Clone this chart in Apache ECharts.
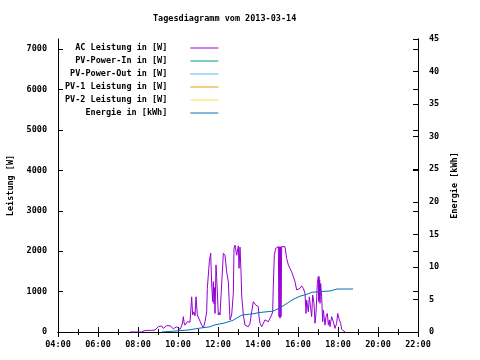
<!DOCTYPE html>
<html>
<head>
<meta charset="utf-8">
<script src="https://cdn.jsdelivr.net/npm/echarts@6/dist/echarts.min.js"></script>
<style>html,body{margin:0;padding:0;background:#fff;}#c{width:480px;height:360px;}</style>
</head>
<body>
<div id="c"></div>
<script>
const titleText = 'Tagesdiagramm vom 2013-03-14';
const seriesNames = ['AC Leistung in [W]', 'PV-Power-In in [W]', 'PV-Power-Out in [W]', 'PV-1 Leistung in [W]', 'PV-2 Leistung in [W]', 'Energie in [kWh]'];
const seriesColors = ['#9400d3', '#009e73', '#56b4e9', '#e69f00', '#f0e442', '#0072b2'];
const xTicks = ['04:00', '06:00', '08:00', '10:00', '12:00', '14:00', '16:00', '18:00', '20:00', '22:00'];
const leftTicks = [0, 1000, 2000, 3000, 4000, 5000, 6000, 7000];
const rightTicks = [0, 5, 10, 15, 20, 25, 30, 35, 40, 45];

const acTime = ['07:36','08:00','08:04','08:11','08:18','08:24','08:31','08:36','08:41','08:45','08:51','08:56',
'09:01','09:06','09:11','09:16','09:21','09:26','09:31','09:36','09:41','09:46','09:51','09:56',
'10:01','10:06','10:11','10:14','10:16','10:18','10:21','10:28','10:36','10:41','10:44','10:48','10:51','10:54','10:58',
'11:01','11:06','11:11','11:16','11:21','11:26','11:28','11:34','11:38','11:41','11:44','11:46','11:48','11:50','11:51','11:54','11:56',
'12:01','12:04','12:06','12:11','12:16','12:21','12:26','12:31','12:36','12:41','12:46','12:48','12:51','12:56',
'13:01','13:03','13:06','13:09','13:11','13:16','13:21','13:26','13:31','13:36','13:41','13:46','13:49','13:53','13:56',
'14:01','14:03','14:06','14:11','14:16','14:21','14:26','14:31','14:36','14:41','14:44','14:46','14:49','14:53','14:56',
'15:01','15:03','15:04','15:06','15:08','15:09','15:11','15:16','15:21','15:26','15:31','15:36','15:41','15:46','15:51','15:56',
'16:01','16:06','16:11','16:16','16:21','16:24','16:26','16:31','16:34','16:38','16:41','16:44','16:48','16:51','16:54','16:58',
'17:01','17:02','17:03','17:04','17:05','17:06','17:08','17:11','17:14','17:16','17:21','17:24','17:28','17:31','17:34','17:36','17:41','17:46','17:51','17:56','17:59',
'18:04','18:08','18:11','18:16','18:21'];
const acPower = [0,0,25,0,30,0,40,0,40,20,50,80,
130,110,150,90,130,155,110,155,110,80,110,130,
90,65,150,250,380,240,170,255,240,870,420,500,400,870,420,
380,270,170,105,255,500,1080,1740,1950,1200,750,1245,700,1100,460,1660,1350,
420,480,420,460,1950,1900,1490,1245,300,420,960,2070,2150,1900,
2130,1575,2100,1490,915,420,170,130,130,215,500,750,790,670,700,
625,380,215,130,170,300,340,255,340,420,500,1160,1900,2070,2110,
2110,380,2110,340,2110,380,2110,2110,2110,1820,1660,1575,1490,1370,1245,1040,
1000,1080,1140,1080,960,460,790,500,870,585,380,915,710,215,460,1200,
1370,750,1370,800,1290,710,1200,870,255,540,170,380,460,170,300,130,380,255,90,215,460,
300,215,65,50,0];

const enTime = ['09:12','10:30','11:06','11:36','11:51','12:21','12:45','13:12','13:45','14:06','14:45','15:06','15:27','15:45','16:06','16:27','16:42','17:06','17:36','17:57','18:45'];
const enValue = [0,0.3,0.6,0.8,1.1,1.4,1.8,2.6,2.8,3.0,3.2,3.7,4.4,5.0,5.5,5.8,6.1,6.2,6.3,6.6,6.6];

function hrs(s){ const p = s.split(':'); return +p[0] + (+p[1]) / 60; }
const acData = acTime.map((t, i) => [hrs(t), acPower[i]]);
const enData = enTime.map((t, i) => [hrs(t), enValue[i]]);

const FONT = 'DejaVu Sans Mono';
const FS = 8.5;
const lineAx = { show: true, lineStyle: { color: '#000', width: 1 } };
const tickIn = { show: true, inside: true, length: 5, lineStyle: { color: '#000', width: 1 } };
const lbl = { color: '#000', fontFamily: FONT, fontSize: FS, fontWeight: 'bold' };

const chart = echarts.init(document.getElementById('c'), null, { renderer: 'canvas' });
const seriesData = [acData, [], [], [], [], enData];
chart.setOption({
  animation: false,
  backgroundColor: '#fff',
  title: { text: titleText, left: 153, top: 14, padding: 0,
    textStyle: { color: '#000', fontFamily: FONT, fontSize: FS, fontWeight: 'bold' } },
  legend: {
    orient: 'vertical', align: 'right', left: 65, top: 43, padding: 0, itemGap: 3,
    icon: 'rect', itemWidth: 28, itemHeight: 1,
    data: seriesNames,
    textStyle: { color: '#000', fontFamily: FONT, fontSize: FS, fontWeight: 'bold', lineHeight: 10, padding: [0, 18, 0, 0] }
  },
  grid: { left: 58, right: 62, top: 39, bottom: 28, containLabel: false, outerBoundsMode: 'none' },
  xAxis: [
    { type: 'value', position: 'bottom', min: 4, max: 22, interval: 2,
      axisLine: lineAx, axisTick: tickIn,
      minorTick: { show: true, splitNumber: 2, length: 3, lineStyle: { color: '#000' } },
      splitLine: { show: false },
      axisLabel: Object.assign({ margin: 8, formatter: v => xTicks[Math.round((v - 4) / 2)] || '' }, lbl) },
    { type: 'value', position: 'top', min: 4, max: 22, interval: 2,
      axisLine: lineAx, axisTick: tickIn,
      minorTick: { show: true, splitNumber: 2, length: 3, lineStyle: { color: '#000' } },
      splitLine: { show: false }, axisLabel: { show: false } }
  ],
  yAxis: [
    { type: 'value', position: 'left', min: 0, max: 7250, interval: 1000,
      name: 'Leistung [W]', nameLocation: 'middle', nameGap: 43, nameRotate: 90,
      nameTextStyle: lbl,
      axisLine: lineAx, axisTick: tickIn, splitLine: { show: false },
      axisLabel: Object.assign({ margin: 11, showMaxLabel: false,
        formatter: v => leftTicks.indexOf(v) >= 0 ? String(v) : '' }, lbl) },
    { type: 'value', position: 'right', min: 0, max: 45, interval: 5,
      name: 'Energie [kWh]', nameLocation: 'middle', nameGap: 29, nameRotate: 90,
      nameTextStyle: lbl,
      axisLine: lineAx, axisTick: tickIn, splitLine: { show: false },
      axisLabel: Object.assign({ margin: 11,
        formatter: v => rightTicks.indexOf(v) >= 0 ? String(v) : '' }, lbl) },
    { type: 'value', position: 'right', min: 0, max: 7250, interval: 1000,
      axisLine: lineAx, axisTick: tickIn, splitLine: { show: false }, axisLabel: { show: false } }
  ],
  series: seriesNames.map((n, i) => ({
    name: n, type: 'line', data: seriesData[i],
    yAxisIndex: i === 5 ? 1 : 0, xAxisIndex: 0,
    showSymbol: false, symbol: 'none',
    color: seriesColors[i],
    lineStyle: { color: seriesColors[i], width: 1 },
    emphasis: { disabled: true }
  }))
});
</script>
</body>
</html>
